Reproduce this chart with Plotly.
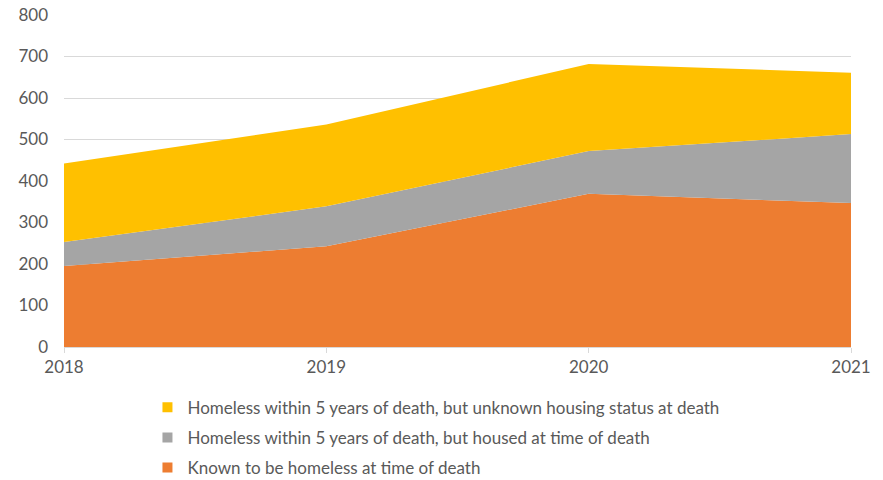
import plotly.graph_objects as go

years = [2018, 2019, 2020, 2021]
known_homeless = [195, 243, 369, 347]
housed_at_death = [58, 96, 103, 166]
unknown_status = [189, 197, 210, 148]

names = [
    "Known to be homeless at time of death",
    "Homeless within 5 years of death, but housed at time of death",
    "Homeless within 5 years of death, but unknown housing status at death",
]
colors = ["#ED7D31", "#A5A5A5", "#FFC000"]
series = [known_homeless, housed_at_death, unknown_status]

fig = go.Figure()
for nm, col, vals in zip(names, colors, series):
    fig.add_trace(go.Scatter(
        x=years, y=vals, stackgroup="one", mode="none",
        fillcolor=col, line=dict(width=0), name=nm, showlegend=False,
        hoverinfo="x+y+name",
    ))
# legend entries, top to bottom: yellow, gray, orange
for i, (nm, col) in enumerate(zip(names[::-1], colors[::-1])):
    fig.add_trace(go.Scatter(
        x=[None], y=[None], mode="markers",
        marker=dict(symbol="square", size=10, color=col),
        name=nm, legendgroup=str(i), showlegend=True,
    ))

font_family = "Lato, 'Open Sans', sans-serif"
fig.update_layout(
    width=883, height=480,
    margin=dict(l=64, r=32, t=15, b=133, autoexpand=False),
    paper_bgcolor="white", plot_bgcolor="white",
    font=dict(family=font_family, size=17, color="#595959"),
    showlegend=True,
    legend=dict(
        orientation="v", traceorder="grouped", tracegroupgap=5,
        x=0.167, xanchor="left", xref="container",
        y=0.188, yanchor="top", yref="container",
        font=dict(family=font_family, size=17, color="#595959"),
        itemwidth=30, bgcolor="rgba(0,0,0,0)",
    ),
    xaxis=dict(
        range=[2018, 2021], tickvals=years, ticktext=[str(y) for y in years],
        showgrid=False, zeroline=False, showline=True, linecolor="#d9d9d9",
        ticks="outside", ticklen=5, tickcolor="#d9d9d9",
        tickfont=dict(size=17, color="#595959"),
    ),
    yaxis=dict(
        range=[0, 800], dtick=100, showgrid=True, gridcolor="#d9d9d9",
        gridwidth=1, zeroline=False, showline=False, ticks="",
        ticklabelstandoff=15,
        tickfont=dict(size=17, color="#595959"),
    ),
)
fig.write_html("out.html")
